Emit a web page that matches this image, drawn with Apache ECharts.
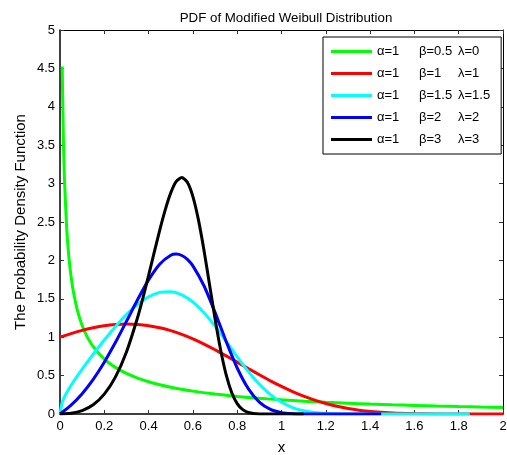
<!DOCTYPE html>
<html>
<head>
<meta charset="utf-8">
<script src="https://cdn.jsdelivr.net/npm/echarts@6/dist/echarts.min.js"></script>
<style>html,body{margin:0;padding:0;background:#fff}#c{width:507px;height:455px}</style>
</head>
<body>
<div id="c"></div>
<script>
// ---- data ----
const titleText = 'PDF of Modified Weibull Distribution';
const xName = 'x';
const yName = 'The Probability Density Function';

const legendA = ['α=1', 'α=1', 'α=1', 'α=1', 'α=1'];
const legendB = ['β=0.5', 'β=1', 'β=1.5', 'β=2', 'β=3'];
const legendL = ['λ=0', 'λ=1', 'λ=1.5', 'λ=2', 'λ=3'];
const colors = ['#00ff00', '#ff0000', '#00ffff', '#0000ff', '#000000'];

const greenX = [0.01,0.015,0.02,0.03,0.04,0.05,0.06,0.08,0.1,0.12,0.15,0.2,0.25,0.3,0.35,0.4,0.45,0.5,0.6,0.7,0.8,0.9,1.0,1.1,1.2,1.3,1.4,1.5,1.6,1.7,1.8,1.9,2.0];
const greenY = [4.524,3.612,3.069,2.428,2.047,1.788,1.598,1.332,1.153,1.021,0.877,0.715,0.607,0.528,0.468,0.420,0.381,0.349,0.298,0.259,0.229,0.204,0.184,0.167,0.153,0.140,0.129,0.120,0.112,0.104,0.097,0.091,0.086];

const redX = [0,0.05,0.1,0.15,0.2,0.25,0.3,0.35,0.4,0.45,0.5,0.55,0.6,0.65,0.7,0.75,0.8,0.85,0.9,0.95,1.0,1.05,1.1,1.15,1.2,1.25,1.3,1.35,1.4,1.5,1.6,1.7,1.8,1.9,2.0];
const redY = [1.000,1.047,1.089,1.122,1.148,1.164,1.171,1.166,1.150,1.123,1.085,1.036,0.977,0.910,0.836,0.757,0.675,0.592,0.511,0.432,0.359,0.292,0.232,0.180,0.136,0.100,0.072,0.050,0.033,0.014,0.005,0.001,0.0003,0,0];

const cyanX = [0,0.01,0.025,0.05,0.1,0.15,0.2,0.25,0.3,0.35,0.4,0.45,0.5,0.55,0.6,0.65,0.7,0.75,0.8,0.85,0.9,0.95,1.0,1.05,1.1,1.15,1.2,1.3,1.4,1.5,1.6,1.7,1.85];
const cyanY = [0,0.154,0.251,0.375,0.584,0.778,0.963,1.137,1.295,1.427,1.526,1.584,1.593,1.551,1.458,1.319,1.144,0.947,0.745,0.554,0.387,0.252,0.152,0.084,0.042,0.019,0.008,0.001,0,0,0,0,0];

const blueX = [0,0.05,0.1,0.15,0.2,0.25,0.3,0.35,0.4,0.45,0.5,0.525,0.55,0.575,0.6,0.65,0.7,0.75,0.8,0.85,0.9,0.95,1.0,1.05,1.1,1.2,1.3,1.45];
const blueY = [0,0.116,0.265,0.452,0.675,0.930,1.206,1.487,1.746,1.951,2.067,2.082,2.064,2.014,1.929,1.670,1.323,0.945,0.599,0.330,0.154,0.059,0.018,0.004,0.001,0,0,0];

const blackX = [0,0.05,0.1,0.15,0.2,0.25,0.3,0.35,0.375,0.4,0.425,0.45,0.475,0.5,0.525,0.55,0.575,0.6,0.625,0.65,0.675,0.7,0.725,0.75,0.775,0.8,0.825,0.85,0.9,0.95,1.0,1.1];
const blackY = [0,0.009,0.045,0.121,0.259,0.480,0.808,1.254,1.519,1.804,2.100,2.391,2.658,2.879,3.028,3.080,3.017,2.830,2.527,2.133,1.687,1.240,0.836,0.512,0.280,0.135,0.056,0.020,0.001,0,0,0];

const seriesX = [greenX, redX, cyanX, blueX, blackX];
const seriesY = [greenY, redY, cyanY, blueY, blackY];

// ---- chart ----
const FONT = "'Liberation Sans', Arial, sans-serif";
const names = legendA.map((a, i) => a + ' ' + legendB[i] + ' ' + legendL[i]);
const chart = echarts.init(document.getElementById('c'), null, {renderer: 'canvas'});

const tickStyle = {show: true, inside: true, length: 4, lineStyle: {color: '#333', width: 1}};
const option = {
  backgroundColor: '#fff',
  animation: false,
  title: {
    text: titleText, left: 281, top: 7, textAlign: 'center',
    textStyle: {fontFamily: FONT, fontSize: 13.3, fontWeight: 'normal', color: '#000'}
  },
  grid: {left: 60, right: 4, top: 30, bottom: 41, containLabel: false, outerBoundsMode: 'none'},
  legend: {
    orient: 'vertical', left: 323, top: 37,
    padding: [7, 11, 7, 8], itemGap: 7, itemWidth: 41, itemHeight: 3, itemTextGap: 5,
    borderColor: '#000', borderWidth: 1, backgroundColor: '#fff',
    icon: 'rect',
    data: names,
    formatter: function (n) {
      const i = names.indexOf(n);
      return '{a|' + legendA[i] + '}{b|' + legendB[i] + '}{c|' + legendL[i] + '}';
    },
    textStyle: {
      fontFamily: FONT, fontSize: 13, color: '#000', lineHeight: 15,
      rich: {
        a: {width: 42, fontFamily: FONT, fontSize: 13, color: '#000', lineHeight: 15},
        b: {width: 39, fontFamily: FONT, fontSize: 13, color: '#000', lineHeight: 15},
        c: {fontFamily: FONT, fontSize: 13, color: '#000', lineHeight: 15}
      }
    }
  },
  xAxis: [{
    type: 'value', min: 0, max: 2, interval: 0.2, position: 'bottom',
    name: xName, nameLocation: 'middle', nameGap: 26, nameMoveOverlap: false,
    nameTextStyle: {fontFamily: FONT, fontSize: 15, color: '#000'},
    axisLine: {show: true, onZero: false, lineStyle: {color: '#000', width: 1.5}},
    axisTick: tickStyle,
    axisLabel: {fontFamily: FONT, fontSize: 13, color: '#000', margin: 6},
    splitLine: {show: false}
  }, {
    type: 'value', min: 0, max: 2, interval: 0.2, position: 'top',
    axisLine: {show: true, onZero: false, lineStyle: {color: '#000', width: 1}},
    axisTick: tickStyle, axisLabel: {show: false}, splitLine: {show: false}
  }],
  yAxis: [{
    type: 'value', min: 0, max: 5, interval: 0.5, position: 'left',
    name: yName, nameLocation: 'middle', nameGap: 32, nameRotate: 90, nameMoveOverlap: false,
    nameTextStyle: {fontFamily: FONT, fontSize: 15, color: '#000'},
    axisLine: {show: true, onZero: false, lineStyle: {color: '#000', width: 1.5}},
    axisTick: tickStyle,
    axisLabel: {fontFamily: FONT, fontSize: 13, color: '#000', margin: 5},
    splitLine: {show: false}
  }, {
    type: 'value', min: 0, max: 5, interval: 0.5, position: 'right',
    axisLine: {show: true, onZero: false, lineStyle: {color: '#000', width: 1}},
    axisTick: tickStyle, axisLabel: {show: false}, splitLine: {show: false}
  }],
  series: names.map((n, i) => ({
    name: n, type: 'line', xAxisIndex: 0, yAxisIndex: 0,
    data: seriesX[i].map((x, k) => [x, seriesY[i][k]]),
    showSymbol: false, smooth: 0.2,
    lineStyle: {color: colors[i], width: 3},
    itemStyle: {color: colors[i]},
    z: 2 + i
  }))
};
chart.setOption(option);
</script>
</body>
</html>
